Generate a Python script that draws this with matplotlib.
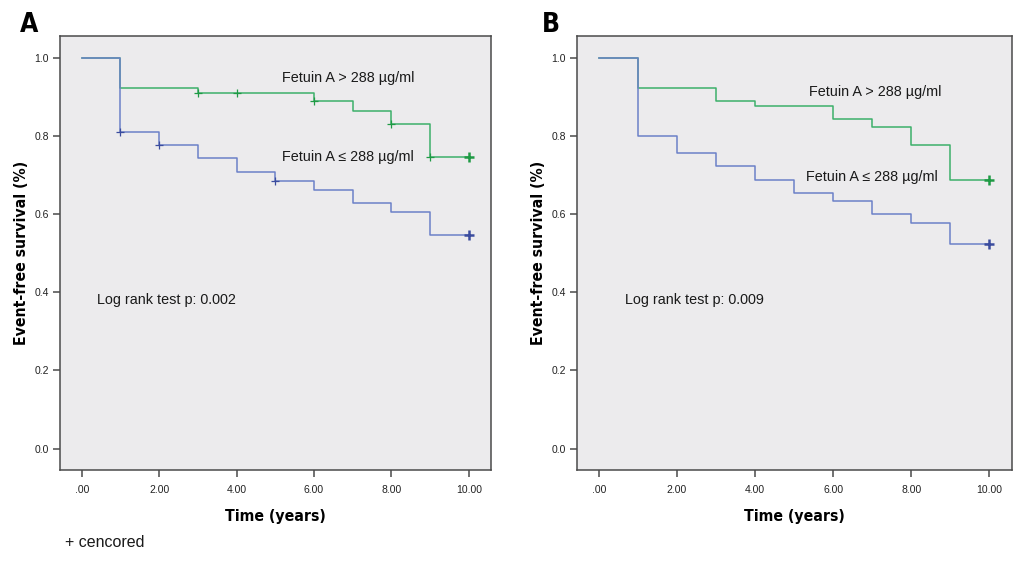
import matplotlib.pyplot as plt
from matplotlib.ticker import FuncFormatter
from matplotlib import font_manager

# survival at each year (value holds from that year to the next)
years = [0, 1, 2, 3, 4, 5, 6, 7, 8, 9, 10]

a_high = [1.0, 0.923, 0.923, 0.912, 0.912, 0.912, 0.890, 0.866, 0.831, 0.748, 0.748]
a_low = [1.0, 0.811, 0.778, 0.744, 0.709, 0.686, 0.663, 0.629, 0.605, 0.547, 0.547]
a_high_cens = [3, 4, 6, 8, 9]
a_low_cens = [1, 2, 5]

b_high = [1.0, 0.923, 0.923, 0.890, 0.878, 0.878, 0.845, 0.824, 0.779, 0.689, 0.689]
b_low = [1.0, 0.801, 0.756, 0.724, 0.689, 0.656, 0.634, 0.601, 0.579, 0.523, 0.523]
b_high_cens = []
b_low_cens = []

xticks = [0, 2, 4, 6, 8, 10]
yticks = [0.0, 0.2, 0.4, 0.6, 0.8, 1.0]

GREEN = "#3cb06a"
GREEN_DK = "#1f9a45"
BLUE = "#6c80c8"
BLUE_DK = "#3b4c9e"
BG = "#ecebed"
FRAME = "#4a4a4a"

plain = ["Liberation Sans", "DejaVu Sans"]
plt.rcParams["font.family"] = plain

# look for a condensed bold face for the headings
cond_file = None
for f in font_manager.fontManager.ttflist:
    name = f.fname.lower()
    if ("condensed" in name or "narrow" in name) and "bold" in name \
            and "oblique" not in name and "italic" not in name:
        cond_file = f.fname
        break
if cond_file:
    head = dict(fontproperties=font_manager.FontProperties(fname=cond_file))
else:
    head = dict(family="Liberation Sans", fontweight="bold")


def xfmt(v, pos):
    return ".00" if v == 0 else "%.2f" % v


def draw_panel(ax, high, low, high_cens, low_cens, pval, txt_pos):
    ax.set_facecolor(BG)
    ax.step(years, high, where="post", color=GREEN, lw=1.1, zorder=3)
    ax.step(years, low, where="post", color=BLUE, lw=1.1, zorder=3)
    # censor ticks during follow-up
    ax.plot(high_cens, [high[t] for t in high_cens], "+", color=GREEN_DK,
            ms=6, mew=0.9, zorder=4, ls="none")
    ax.plot(low_cens, [low[t] for t in low_cens], "+", color=BLUE_DK,
            ms=6, mew=0.9, zorder=4, ls="none")
    # end-of-followup censor marks
    ax.plot([10], [high[-1]], "+", color=GREEN_DK, ms=7, mew=1.8, zorder=4)
    ax.plot([10], [low[-1]], "+", color=BLUE_DK, ms=7, mew=1.8, zorder=4)

    ax.set_xlim(-0.56, 10.57)
    ax.set_ylim(-0.055, 1.057)
    ax.set_xticks(xticks)
    ax.set_yticks(yticks)
    ax.xaxis.set_major_formatter(FuncFormatter(xfmt))
    ax.yaxis.set_major_formatter(FuncFormatter(lambda v, p: "%.1f" % v))
    ax.tick_params(axis="both", labelsize=7.5, length=5, width=1.1,
                   color=FRAME, labelcolor="#222222", pad=3)
    ax.tick_params(axis="x", pad=6)
    for sp in ax.spines.values():
        sp.set_color(FRAME)
        sp.set_linewidth(1.1)

    lx_ = ax.set_xlabel("Time (years)", labelpad=10, **head)
    ly_ = ax.set_ylabel("Event-free survival (%)", labelpad=4, **head)
    lx_.set_fontsize(11.3)
    ly_.set_fontsize(11.3)

    (hx, hy), (lx, ly), (px, py) = txt_pos
    ax.text(hx, hy, "Fetuin A > 288 µg/ml", fontsize=10.4, va="center",
            color="#1a1a1a")
    ax.text(lx, ly, "Fetuin A \u2264 288 µg/ml", fontsize=10.4, va="center",
            color="#1a1a1a")
    ax.text(px, py, "Log rank test p: %s" % pval, fontsize=10.4, va="center",
            color="#1a1a1a")


fig = plt.figure(figsize=(10.24, 5.63), dpi=100)
ax_a = fig.add_axes([0.0586, 0.1652, 0.4209, 0.7708])
ax_b = fig.add_axes([0.5635, 0.1652, 0.4245, 0.7708])

draw_panel(ax_a, a_high, a_low, a_high_cens, a_low_cens, "0.002",
           [(5.17, 0.950), (5.17, 0.748), (0.40, 0.381)])
draw_panel(ax_b, b_high, b_low, b_high_cens, b_low_cens, "0.009",
           [(5.39, 0.913), (5.30, 0.696), (0.67, 0.381)])

for x, letter in [(0.019, "A"), (0.529, "B")]:
    t = fig.text(x, 0.956, letter, va="center", **head)
    t.set_fontsize(19)
fig.text(0.063, 0.036, "+ cencored", fontsize=11.5, va="center",
         color="#1a1a1a")

fig.savefig("out.png", dpi=100, facecolor="white")
